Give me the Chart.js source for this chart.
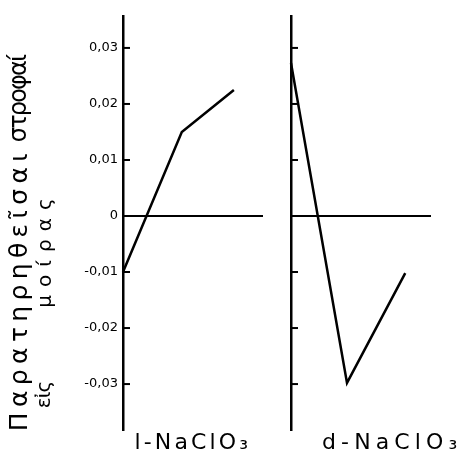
<!DOCTYPE html>
<html>
<head>
<meta charset="utf-8">
<script src="https://cdn.jsdelivr.net/npm/chart.js@4"></script>
<style>
  html, body { margin: 0; padding: 0; background: #fff; }
  #wrap { position: relative; width: 463px; height: 464px; overflow: hidden; }
  canvas { position: absolute; top: 0; }
  .txt { position: absolute; white-space: nowrap; color: #000; font-family: "DejaVu Sans", sans-serif; line-height: 1; }
</style>
</head>
<body>
<div id="wrap">
  <canvas id="left" style="left:0" width="280" height="464"></canvas>
  <canvas id="right" style="left:270px" width="193" height="464"></canvas>
</div>
<script>
// values (rotation in degrees)
const lX = [0, 1.05, 1.98];
const lValues = [-0.01, 0.015, 0.0225];
const dX = [0, 1.0, 2.04];
const dValues = [0.0273, -0.0298, -0.0102];
const zeroX = [0, 2.5];
const tickValues = [0.03, 0.02, 0.01, 0, -0.01, -0.02, -0.03];
const tickLabels = ["0,03", "0,02", "0,01", "0", "-0,01", "-0,02", "-0,03"];
const yTitle = ["Παρατηρηθεῖσαι", "στροφαί", "εἰς", "μοίρας"];
const xLabels = ["l-NaClO₃", "d-NaClO₃"];

// short tick stubs drawn inside the plot, to the right of the axis
const innerTicks = {
    id: "innerTicks",
    afterDraw(chart) {
        const y = chart.scales.y;
        const ctx = chart.ctx;
        ctx.save();
        ctx.strokeStyle = "#000";
        ctx.lineWidth = 2;
        tickValues.forEach(v => {
            const py = y.getPixelForValue(v);
            ctx.beginPath();
            ctx.moveTo(chart.chartArea.left, py);
            ctx.lineTo(chart.chartArea.left + 7, py);
            ctx.stroke();
        });
        ctx.restore();
    }
};

function makePanel(id, xs, values, axisWidth, xMax, showLabels) {
    const pts = xs.map((x, i) => ({ x: x, y: values[i] }));
    const zero = zeroX.map(x => ({ x: x, y: 0 }));
    return new Chart(document.getElementById(id), {
        type: "line",
        data: {
            datasets: [
                {
                    data: pts,
                    borderColor: "#000",
                    borderWidth: 2.5,
                    pointRadius: 0,
                    tension: 0,
                    clip: false
                },
                {
                    data: zero,
                    borderColor: "#000",
                    borderWidth: 2,
                    pointRadius: 0,
                    clip: false
                }
            ]
        },
        options: {
            responsive: false,
            animation: false,
            layout: { padding: { top: 16, bottom: 34, left: 0, right: 0 } },
            plugins: { legend: { display: false }, tooltip: { enabled: false } },
            scales: {
                x: { type: "linear", min: 0, max: xMax, display: false },
                y: {
                    type: "linear",
                    min: -0.0382,
                    max: 0.0357,
                    afterFit(scale) { scale.width = axisWidth; },
                    afterBuildTicks(scale) {
                        scale.ticks = tickValues.map(v => ({ value: v }));
                    },
                    grid: { display: false, drawTicks: false },
                    border: { display: true, color: "#000", width: 2.5 },
                    ticks: {
                        display: showLabels,
                        padding: 5,
                        color: "#000",
                        font: { family: "DejaVu Sans", size: 13 },
                        callback: v => tickLabels[tickValues.indexOf(v)]
                    }
                }
            }
        },
        plugins: [innerTicks]
    });
}

makePanel("left", lX, lValues, 123, 157 / 56, true);
makePanel("right", dX, dValues, 21, 172 / 56, false);

// text placed as real HTML text
const wrap = document.getElementById("wrap");

function addText(text, size, opts) {
    const el = document.createElement("div");
    el.className = "txt";
    el.textContent = text;
    el.style.fontSize = size + "px";
    wrap.appendChild(el);
    const w0 = el.offsetWidth;
    const spacing = (opts.length - w0) / text.length;
    el.style.letterSpacing = spacing + "px";
    const w = el.offsetWidth;
    const h = el.offsetHeight;
    el.style.left = (opts.cx - w / 2) + "px";
    el.style.top = (opts.cy - h / 2) + "px";
    if (opts.vertical) el.style.transform = "rotate(-90deg)";
    return el;
}

// y-axis title, two handwritten columns
addText(yTitle[0], 25, { cx: 18, cy: 289, length: 283, vertical: true });
addText(yTitle[1], 24, { cx: 18, cy: 99, length: 86, vertical: true });
addText(yTitle[2], 20, { cx: 43, cy: 395, length: 26, vertical: true });
addText(yTitle[3], 20, { cx: 43, cy: 249, length: 117, vertical: true });

// panel labels
addText(xLabels[0], 22, { cx: 193, cy: 442, length: 117 });
addText(xLabels[1], 22, { cx: 392, cy: 442, length: 140 });
</script>
</body>
</html>
